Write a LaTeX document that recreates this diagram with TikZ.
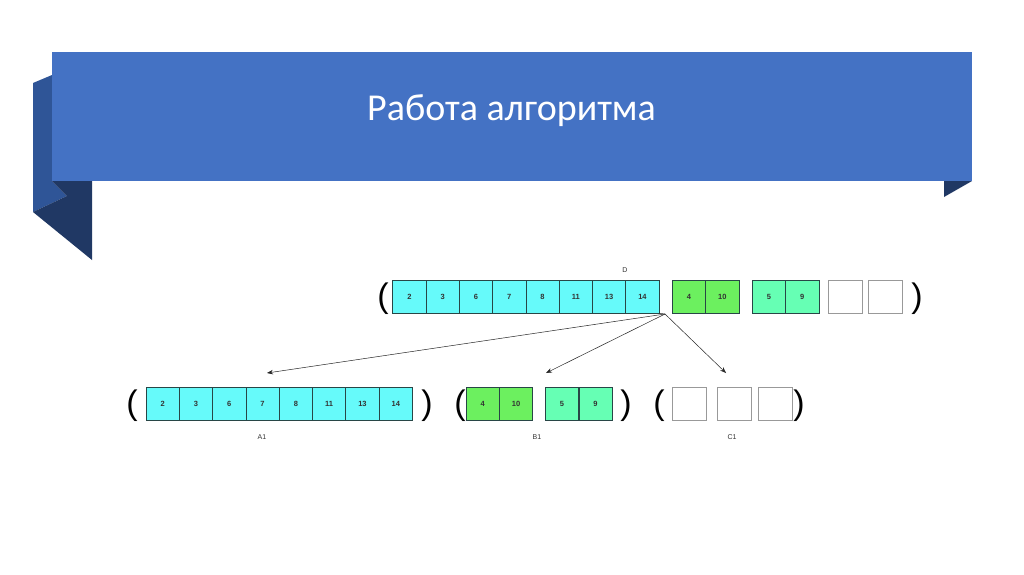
\documentclass[tikz,border=0pt]{standalone}
\usepackage{fontspec}
\setmainfont{Liberation Sans}
\newfontfamily\titlefont{Carlito}
\usetikzlibrary{arrows.meta}
\definecolor{bannermain}{RGB}{68,114,196}
\definecolor{bannermid}{RGB}{47,85,151}
\definecolor{bannerdark}{RGB}{32,56,100}
\definecolor{cellcyan}{RGB}{102,250,250}
\definecolor{cellgreen}{RGB}{108,240,95}
\definecolor{cellmint}{RGB}{102,255,180}
\definecolor{celledge}{RGB}{40,70,70}
\tikzset{
  cellbox/.style={draw=celledge, line width=0.7pt, minimum width=33.3pt, minimum height=33pt, inner sep=0pt, font=\fontsize{7.5}{8}\selectfont\bfseries, text=black!80},
  cyanc/.style={cellbox, fill=cellcyan},
  greenc/.style={cellbox, fill=cellgreen},
  mintc/.style={cellbox, fill=cellmint},
  emptyc/.style={draw=gray!80, line width=0.9pt, fill=white, minimum width=34pt, minimum height=33pt, inner sep=0pt},
  paren/.style={font=\fontsize{34}{34}\selectfont, inner sep=0pt},
  lbl/.style={font=\fontsize{7}{8}\selectfont, text=black!80, inner sep=0pt},
  arr/.style={draw=black!85, line width=0.5pt, -{Stealth[length=6pt,width=4.5pt]}}
}
\begin{document}
\begin{tikzpicture}[x=1pt,y=-1pt]
\useasboundingbox (0,0) rectangle (1024,574);
\fill[white] (0,0) rectangle (1024,574);
% banner folds
\fill[bannermid] (33,83) -- (52,75) -- (52,181) -- (67,196) -- (33,212) -- cycle;
\fill[bannerdark] (52,181) -- (92,181) -- (92,260) -- (33,212) -- (67,196) -- cycle;
\fill[bannerdark] (944,181) -- (972,181) -- (944,197) -- cycle;
\fill[bannermain] (52,52) rectangle (972,181);
\node[text=white, font=\titlefont\fontsize{38}{44}\selectfont, inner sep=0pt] (title) at (511.5,111) {Работа алгоритма};

% top row D
\foreach \v [count=\i from 0] in {2,3,6,7,8,11,13,14}
  \node[cyanc] (d\i) at ({409.35+33.3*\i},296.5) {\v};
\node[greenc] (dg0) at (689,296.5) {4};
\node[greenc] (dg1) at (722.3,296.5) {10};
\node[mintc] (dm0) at (769,296.5) {5};
\node[mintc] (dm1) at (802.3,296.5) {9};
\node[emptyc] (de0) at (845.5,296.5) {};
\node[emptyc] (de1) at (885.3,296.5) {};
\node[paren] (dpl) at (383,299) {(};
\node[paren] (dpr) at (917,299) {)};
\node[lbl] (dlab) at (625,270) {D};

% bottom A1
\foreach \v [count=\i from 0] in {2,3,6,7,8,11,13,14}
  \node[cyanc] (a\i) at ({162.65+33.3*\i},403.7) {\v};
\node[paren] (apl) at (132,406) {(};
\node[paren] (apr) at (427,406) {)};
\node[lbl] (alab) at (262,437) {A1};

% B1
\node[greenc] (bg0) at (482.7,403.7) {4};
\node[greenc] (bg1) at (516,403.7) {10};
\node[mintc] (bm0) at (562,403.7) {5};
\node[mintc] (bm1) at (595.5,403.7) {9};
\node[paren] (bpl) at (460,406) {(};
\node[paren] (bpr) at (626,406) {)};
\node[lbl] (blab) at (537,437) {B1};

% C1
\node[emptyc] (c0) at (689,403.7) {};
\node[emptyc] (c1) at (734.5,403.7) {};
\node[emptyc] (c2) at (775.3,403.7) {};
\node[paren] (cpl) at (659,406) {(};
\node[paren] (cpr) at (799,406) {)};
\node[lbl] (clab) at (732,437) {C1};

% arrows
\coordinate (src) at (665,314);
\coordinate (ta) at (267,373);
\coordinate (tb) at (546,373);
\coordinate (tc) at (726,373);
\draw[arr] (src) -- (ta);
\draw[arr] (src) -- (tb);
\draw[arr] (src) -- (tc);
\draw[draw=black!85, line width=0.5pt] (d7.south east) -- (src);
\end{tikzpicture}
\end{document}
